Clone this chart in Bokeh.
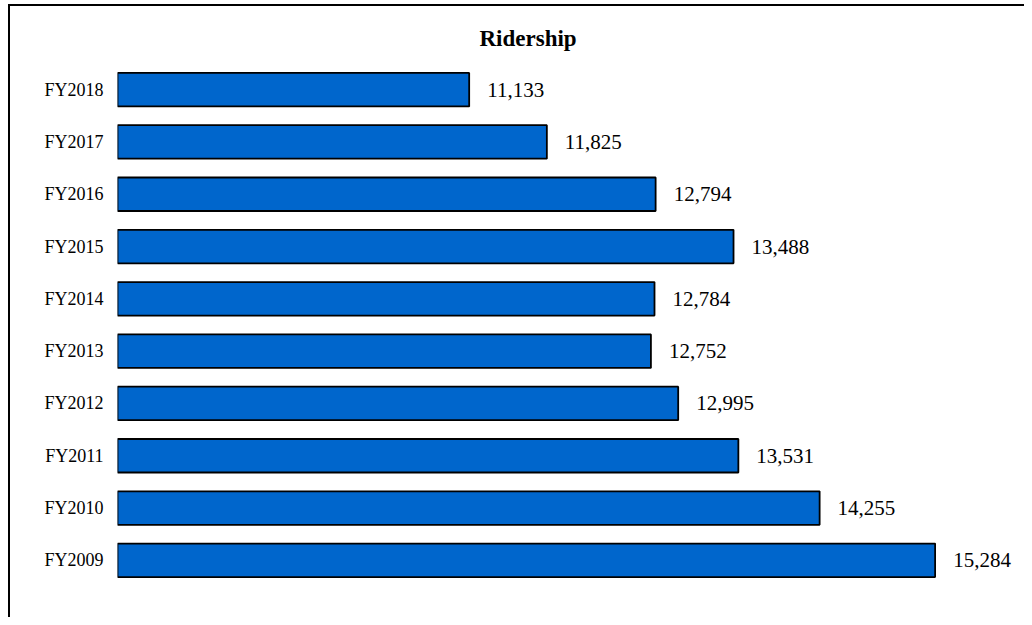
from bokeh.plotting import figure
from bokeh.models import FactorRange, ColumnDataSource, Range1d
from bokeh.core.properties import value
from bokeh.embed import file_html
from bokeh.resources import INLINE

years = ["FY2009", "FY2010", "FY2011", "FY2012", "FY2013", "FY2014", "FY2015", "FY2016", "FY2017", "FY2018"]
ridership = [15284, 14255, 13531, 12995, 12752, 12784, 13488, 12794, 11825, 11133]
labels = [f"{v:,}" for v in ridership]

src = ColumnDataSource(dict(y=years, x=ridership, lab=labels))

p = figure(width=1024, height=617, output_backend="svg", toolbar_location=None,
           y_range=FactorRange(factors=years), x_range=Range1d(8000, 16000),
           min_border_left=117, min_border_right=9, min_border_top=63, min_border_bottom=31)

p.hbar(y="y", right="x", left=8000, height=0.64, source=src,
       fill_color="#0066CC", line_color="black", line_width=1.8)
p.text(x="x", y="y", text="lab", source=src, x_offset=18, text_baseline="middle",
       text_align="left", text_font=value("Liberation Serif"), text_font_size="21px",
       text_color="black")

p.title.text = "Ridership"
p.title.align = "left"
p.title.offset = 362
p.title.text_font = "Liberation Serif"
p.title.text_font_style = "bold"
p.title.text_font_size = "23px"
p.title.text_color = "black"
p.title.standoff = 25

p.xaxis.visible = False
p.yaxis.axis_line_color = None
p.yaxis.major_tick_line_color = None
p.yaxis.minor_tick_line_color = None
p.yaxis.major_tick_out = 0
p.yaxis.major_label_standoff = 14
p.yaxis.major_label_text_font = "Liberation Serif"
p.yaxis.major_label_text_font_size = "18px"
p.yaxis.major_label_text_color = "black"
p.xgrid.visible = False
p.ygrid.visible = False
p.outline_line_color = None
p.y_range.range_padding = 0
p.border_fill_color = None
p.styles = {"background": "linear-gradient(#000,#000) 8px 4px / 2px 100% no-repeat, "
                          "linear-gradient(#000,#000) 8px 4px / 100% 2px no-repeat, #fff"}

open("out.html", "w").write(file_html(p, INLINE))
